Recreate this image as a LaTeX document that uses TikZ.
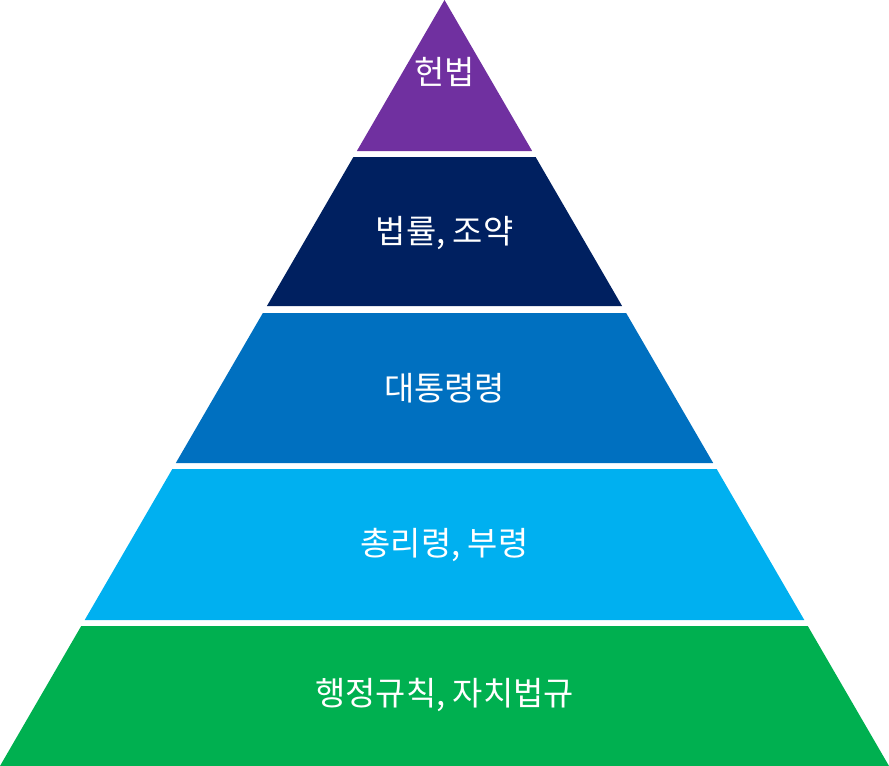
\documentclass[tikz,border=0pt]{standalone}
\usepackage{fontspec}
\newfontfamily\krfont{Noto Sans CJK KR}
\usetikzlibrary{calc}
\definecolor{lvlone}{RGB}{112,48,160}
\definecolor{lvltwo}{RGB}{0,32,96}
\definecolor{lvlthree}{RGB}{0,112,192}
\definecolor{lvlfour}{RGB}{0,176,240}
\definecolor{lvlfive}{RGB}{0,176,80}

\begin{document}
\begin{tikzpicture}[
  x=1bp, y=-1bp,
  lbl/.style={text=white, inner sep=0pt, font=\krfont\fontsize{33}{38}\selectfont},
]
  \useasboundingbox (0,0) rectangle (889,766);
  % bands of one triangle (apex at top centre), cut by thin white gaps
  \foreach \t/\b/\ly/\col/\nm/\txt in {
      0/151/72/lvlone/Const/{헌법},
      157/306/233/lvltwo/Law/{법률, 조약},
      313/463/388/lvlthree/Pres/{대통령령},
      469/620/545/lvlfour/Prime/{총리령, 부령},
      626/766/695/lvlfive/Admin/{행정규칙, 자치법규}} {
    \fill[\col] ({444.5-0.5803*\t},\t) -- ({444.5+0.5803*\t},\t)
      -- ({444.5+0.5803*\b},\b) -- ({444.5-0.5803*\b},\b) -- cycle;
    \node[lbl] (\nm) at (444.5,\ly) {\txt};
  }
\end{tikzpicture}
\end{document}
